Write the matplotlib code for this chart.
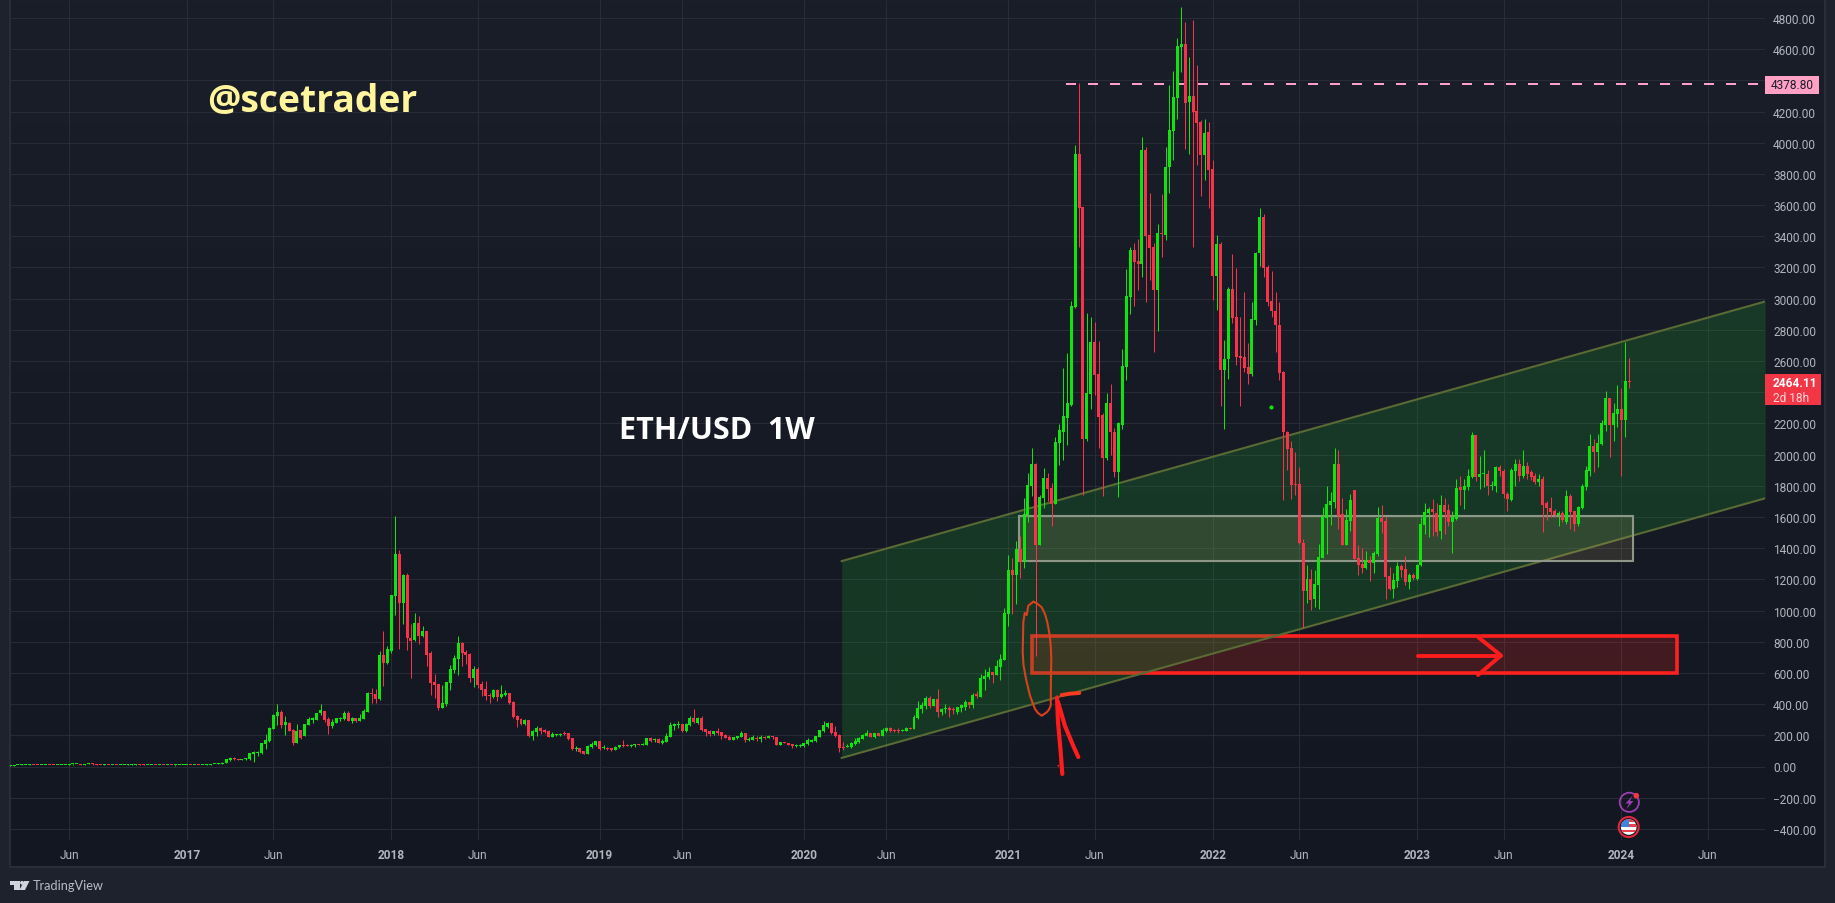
import numpy as np
import matplotlib
matplotlib.use("Agg")
import matplotlib.pyplot as plt
from matplotlib.patches import Rectangle, Circle, Polygon

plt.rcParams['font.family'] = ['Roboto', 'DejaVu Sans']

# (open, high, low, close) per week, by calendar year
ohlc_2016 = [(6,7,5,6),(6,8,6,7),(7,11,7,10),(10,13,10,11),(11,12,10,11),(11,13,10,12),(12,12,9,10),(10,10,7,8),(8,9,7,8),
 (8,9,7,9),(9,10,7,8),(8,8,7,7),(7,9,7,8),(8,11,8,10),(10,12,10,11),(11,14,11,13),(13,15,12,13),(13,15,13,14),(14,15,11,12),
 (12,16,12,15),(15,21,15,18),(18,21,12,14),(14,15,10,12),(12,12,10,11),(11,15,10,12),(12,12,10,10),(10,12,10,11),(11,12,10,10),(10,12,10,11),
 (11,12,10,11),(11,13,11,12),(12,14,12,12),(12,15,12,13),(13,13,11,12),(12,13,11,11),(11,12,11,11),(11,12,10,11),(11,11,10,10),(10,11,9,10),
 (10,10,9,9),(9,10,8,9),(9,9,7,8),(8,8,6,8),(8,9,7,8),(8,9,7,8)]
ohlc_2017 = [(8,9,7,8),(10,11,8,9),(10,11,9,11),(11,12,10,10),(10,12,10,11),(11,13,11,12),(12,14,11,13),(14,19,13,18),(18,20,16,19),
 (18,27,17,25),(21,50,20,46),(40,60,38,55),(52,58,44,46),(46,50,41,42),(42,50,40,48),(46,52,44,48),(46,86,44,84),(78,99,30,90),
 (87,97,70,88),(84,150,82,148),(142,211,110,173),(165,252,160,249),(243,335,240,331),(325,401,268,352),(350,363,249,268),(268,325,205,287),
 (279,287,228,230),(236,240,135,148),(148,274,148,230),(231,236,179,184),(197,271,195,271),(267,320,265,303),(299,316,278,308),(299,346,297,346),
 (340,400,329,361),(355,358,286,297),(303,320,207,261),(259,303,250,284),(280,312,278,310),(303,316,293,310),(303,355,295,342),(342,355,290,293),
 (293,316,280,310),(310,312,286,293),(293,335,291,310),(306,368,304,355),(350,475,348,470),(470,502,406,466),(464,496,406,432),(432,739,425,714),
 (714,868,515,662),(662,773,655,752)]
ohlc_2018 = [(739,1100,725,1098),(1092,1604,970,1361),(1361,1387,755,1047),(1047,1233,915,1227),(1227,1240,744,823),(823,914,565,803),
 (810,985,805,919),(919,963,786,835),(835,900,830,868),(868,872,642,714),(727,739,457,534),(541,590,440,521),(528,532,363,374),(374,521,372,406),
 (400,545,389,541),(534,650,490,624),(618,712,600,694),(688,838,586,791),(791,796,645,727),(733,744,655,714),(720,727,545,566),(566,645,510,624),
 (624,636,505,521),(528,551,451,489),(496,549,425,451),(457,474,406,453),(444,500,440,489),(489,495,420,444),(444,525,442,464),(457,489,449,470),
 (470,472,400,406),(412,418,310,316),(322,330,254,297),(303,310,263,271),(271,303,268,297),(297,299,186,194),(194,231,171,226),(220,258,197,246),
 (246,252,207,226),(233,240,218,220),(226,231,186,188),(188,224,186,207),(200,209,198,207),(203,218,196,211),(214,226,205,207),(214,216,171,175),
 (182,184,105,111),(111,130,100,120),(118,120,85,90),(98,100,78,79),(79,137,78,130),(122,160,118,143),(137,164,130,162)]
ohlc_2019 = [(162,164,108,111),(117,135,115,124),(120,122,108,113),(118,120,102,109),(105,130,104,128),(122,137,118,135),(137,167,128,130),
 (139,143,130,132),(130,145,124,139),(137,147,128,143),(143,145,137,139),(139,150,137,143),(137,184,135,182),(182,190,160,162),(169,184,154,175),
 (175,180,148,150),(150,175,146,162),(156,213,154,194),(188,284,186,265),(258,278,235,271),(265,291,246,271),(271,273,224,226),(226,278,224,271),
 (265,325,258,310),(310,370,278,284),(282,320,273,310),(310,323,230,233),(239,241,194,220),(226,233,194,207),(207,228,205,226),(226,244,205,213),
 (220,222,175,194),(201,207,180,182),(188,199,167,169),(169,190,167,188),(182,196,177,194),(188,226,186,213),(213,215,158,169),(169,186,165,177),
 (169,199,167,188),(182,194,162,175),(175,201,158,188),(186,194,178,182),(182,199,180,194),(192,194,175,186),(188,190,135,137),(137,160,135,156),
 (156,158,148,150),(150,152,135,137),(143,145,120,130),(130,145,124,139),(132,143,128,141)]
ohlc_2020 = [(130,152,128,150),(143,180,141,169),(160,177,154,173),(162,196,160,194),(188,235,186,233),(226,290,224,265),(252,288,245,278),
 (278,280,211,213),(220,258,192,194),(201,207,94,118),(128,154,105,120),(127,145,124,133),(124,155,120,150),(143,180,141,163),(154,190,152,182),
 (176,206,174,201),(197,231,195,214),(214,216,186,188),(186,216,184,214),(214,216,195,197),(195,250,193,233),(225,255,222,244),(244,253,223,229),
 (235,240,222,227),(236,250,218,229),(227,238,225,234),(227,252,225,247),(248,253,240,242),(240,330,238,318),(311,420,305,375),(369,415,345,395),
 (388,450,370,440),(440,450,378,388),(388,435,385,433),(433,498,318,350),(350,375,330,369),(369,400,345,378),(375,385,318,360),(369,380,337,360),
 (350,384,335,382),(375,400,350,395),(382,424,360,414),(414,416,375,395),(395,470,378,459),(462,482,440,455),(446,590,444,568),(562,625,490,581),
 (575,640,560,607),(607,609,535,588),(588,680,586,645),(639,720,555,690),(684,1015,680,986)]
ohlc_2021 = [(978,1357,900,1261),(1261,1340,980,1229),(1229,1445,1045,1396),(1396,1480,1212,1313),(1313,1720,1275,1621),(1615,1880,1570,1807),
 (1800,2045,1735,1942),(1942,1945,707,1422),(1422,1740,1420,1730),(1724,1915,1660,1853),(1853,1880,1700,1782),(1788,1815,1540,1685),(1685,2110,1683,2083),
 (2077,2195,1935,2155),(2148,2553,1965,2250),(2238,2650,2060,2328),(2321,2985,2310,2955),(2946,3987,2940,3929),(3929,4386,3330,3581),(3588,3590,1740,2097),
 (2097,2910,2090,2392),(2386,2885,2290,2720),(2720,2853,2380,2508),(2514,2730,2040,2244),(2251,2265,1735,1981),(1981,2395,1965,2328),(2328,2455,2000,2142),
 (2148,2170,1855,1891),(1891,2210,1730,2200),(2193,2680,2165,2566),(2560,3190,2480,3015),(3008,3330,2900,3311),(3311,3355,2950,3234),(3240,3380,3055,3221),
 (3221,4040,3140,3955),(3955,3975,2980,3401),(3408,3680,3120,3324),(3330,3355,2660,3054),(3054,3480,2793,3420),(3420,3670,3270,3414),(3407,3975,3375,3845),
 (3845,4373,3678,4083),(4077,4461,3890,4295),(4289,4670,4154,4623),(4617,4868,4456,4630),(4630,4775,3960,4257),(4263,4550,3925,4302),(4302,4785,3330,4199),
 (4205,4500,3860,4128),(4135,4145,3660,3922),(3922,4155,3760,4064),(4070,4130,3580,3826)]
ohlc_2022 = [(3832,3890,2990,3144),(3144,3410,2930,3350),(3350,3362,2309,2540),(2540,2733,2167,2611),(2611,3075,2482,3060),(3060,3285,2842,2874),
 (2881,3195,2575,2624),(2630,2880,2310,2617),(2624,3045,2530,2553),(2560,2715,2450,2514),(2514,2980,2505,2868),(2862,3298,2830,3296),(3290,3580,3210,3523),
 (3523,3545,3140,3195),(3202,3215,2950,2976),(2983,3180,2880,2918),(2918,3040,2660,2829),(2829,2977,2480,2521),(2527,2535,1710,2142),(2148,2150,1900,2039),
 (2045,2086,1715,1807),(1814,2018,1743,1807),(1814,1923,1425,1435),(1435,1460,887,1126),(1126,1290,1050,1203),(1203,1265,1005,1068),(1075,1260,1025,1171),
 (1165,1430,1010,1345),(1338,1665,1336,1601),(1595,1800,1360,1685),(1679,1760,1550,1705),(1698,2040,1660,1942),(1942,2030,1525,1608),(1621,1720,1420,1422),
 (1422,1650,1420,1583),(1577,1750,1510,1711),(1770,1775,1330,1332),(1338,1420,1225,1293),(1300,1400,1240,1274),(1274,1385,1265,1325),(1325,1350,1190,1306),
 (1306,1380,1240,1370),(1364,1665,1350,1595),(1595,1680,1500,1570),(1576,1600,1075,1216),(1223,1280,1130,1139),(1139,1240,1080,1197),(1190,1310,1150,1287),
 (1287,1300,1215,1262),(1268,1350,1165,1184),(1184,1240,1140,1225),(1225,1240,1195,1208)]
ohlc_2023 = [(1200,1300,1198,1295),(1290,1600,1288,1557),(1550,1690,1490,1630),(1625,1665,1470,1650),(1650,1715,1480,1630),(1628,1690,1480,1505),
 (1510,1740,1460,1680),(1680,1720,1490,1635),(1642,1685,1540,1565),(1565,1640,1370,1600),(1590,1845,1580,1785),(1790,1860,1680,1775),(1775,1845,1650,1800),
 (1795,1905,1770,1865),(1858,2145,1850,2128),(2128,2128,1830,1858),(1858,1990,1780,1878),(1875,2030,1790,1880),(1878,1900,1740,1800),(1800,1830,1775,1807),
 (1800,1930,1760,1918),(1918,1935,1860,1893),(1893,1905,1720,1745),(1750,1760,1640,1715),(1710,1915,1700,1900),(1895,1975,1800,1940),(1940,1970,1830,1865),
 (1865,2030,1850,1930),(1930,1950,1845,1878),(1888,1900,1840,1855),(1860,1885,1810,1822),(1822,1875,1800,1842),(1842,1860,1505,1680),(1688,1700,1580,1655),
 (1660,1730,1600,1630),(1637,1650,1600,1610),(1610,1640,1540,1625),(1625,1640,1570,1578),(1570,1775,1555,1735),(1735,1745,1520,1630),(1637,1640,1510,1555),
 (1555,1670,1545,1665),(1660,1810,1650,1800),(1795,1925,1770,1900),(1893,2135,1860,2053),(2053,2100,1890,2015),(2015,2135,1920,2072),(2065,2220,2060,2200),
 (2193,2405,2150,2360),(2360,2365,1985,2193),(2193,2330,2085,2270),(2263,2445,2175,2290)]
ohlc_2024 = [(2290,2430,1860,2220),(2225,2720,2110,2475),(2475,2620,2425,2464)]

price_ticks = [-400,-200,0,200,400,600,800,1000,1200,1400,1600,1800,2000,2200,2400,2600,2800,3000,3200,3400,3600,3800,4000,4200,4400,4600,4800]
covered_price_ticks = [2400, 4400]  # hidden behind the value labels in the reference
time_tick_weeks = [15,45,67,97,119,150,171,202,223,254,276,306,328,358,380,410,432]
time_tick_labels = ['Jun','2017','Jun','2018','Jun','2019','Jun','2020','Jun','2021','Jun','2022','Jun','2023','Jun','2024','Jun']

channel_weeks = [211.6, 446.6]
channel_upper = [1317, 2982]
channel_lower = [55, 1720]
zone_grey_weeks, zone_grey_prices = [256.6, 413.0], [1317, 1608]
zone_red_weeks, zone_red_prices = [260.0, 424.1], [600, 839]
resistance_week_start, resistance_price = 268.7, 4378.8
stray_dot_week, stray_dot_price = 320.8, 2306

GREEN, RED = '#0de50d', '#f7334a'
W, H = 1835, 904

ohlc = np.array(ohlc_2016 + ohlc_2017 + ohlc_2018 + ohlc_2019 + ohlc_2020 + ohlc_2021 + ohlc_2022 + ohlc_2023 + ohlc_2024, dtype=float)
op, hi, lo, cl = ohlc.T
weeks = np.arange(len(ohlc))
colors = [GREEN if c >= o else RED for o, c in zip(op, cl)]

fig = plt.figure(figsize=(W/100, H/100), dpi=100, facecolor='#1e222d')

# pane background with its faint vertical gradient
bg = fig.add_axes([10/W, (H-868)/H, (1825-10)/W, 868/H], zorder=0)
top, bot = np.array([26, 30, 41]), np.array([19, 23, 33])
grad = np.linspace(0, 1, 256)[:, None, None] * (bot-top)[None, None, :] + top
bg.imshow(grad.astype(np.uint8), aspect='auto', extent=[0, 1, 0, 1])
bg.set_xticks([]); bg.set_yticks([])
for s in bg.spines.values():
    s.set_color('#2a2e39'); s.set_linewidth(1.4)

# main price/time axes
X0, X1, Y0, Y1 = 10, 1765, 841, 0
PX_WEEK, PX_PRICE = 3.93, 0.15594
ax = fig.add_axes([X0/W, (H-Y0)/H, (X1-X0)/W, (Y0-Y1)/H], zorder=5)
ax.patch.set_alpha(0)
ax.set_xlim((X0-10.1)/PX_WEEK, (X1-10.1)/PX_WEEK)
ax.set_ylim((767.5-Y0)/PX_PRICE, (767.5-Y1)/PX_PRICE)
for s in ax.spines.values():
    s.set_visible(False)
ax.yaxis.tick_right()
ax.set_yticks(price_ticks)
ax.set_yticklabels(['' if p in covered_price_ticks else f'{p:.2f}'.replace('-', '\u2212') for p in price_ticks])
ax.set_xticks(time_tick_weeks)
ax.set_xticklabels(time_tick_labels)
ax.tick_params(axis='both', length=0, labelsize=8.6, labelcolor='#b2b5be')
ax.tick_params(axis='y', pad=5.8)
ax.tick_params(axis='x', pad=5.6)
for lab in ax.get_xticklabels():
    if lab.get_text() != 'Jun':
        lab.set_fontweight('bold')
ax.grid(True, color='#2a2e39', lw=0.72, alpha=0.9)
ax.set_axisbelow(True)

# red support zone sits under the channel fill
ax.add_patch(Rectangle((zone_red_weeks[0], zone_red_prices[0]), zone_red_weeks[1]-zone_red_weeks[0], zone_red_prices[1]-zone_red_prices[0],
                       facecolor='#ff2a20', alpha=0.2, lw=0, zorder=1))
ax.add_patch(Rectangle((zone_red_weeks[0], zone_red_prices[0]), zone_red_weeks[1]-zone_red_weeks[0], zone_red_prices[1]-zone_red_prices[0],
                       fill=False, edgecolor='#ff2020', lw=2.6, zorder=1.1, joinstyle='miter'))
ax.fill_between(channel_weeks, channel_lower, channel_upper, color='#1e9a2d', alpha=0.24, lw=0, zorder=2)
ax.plot(channel_weeks, channel_upper, color='#5a6a35', lw=1.5, zorder=2.1)
ax.plot(channel_weeks, channel_lower, color='#5a6a35', lw=1.5, zorder=2.1)
ax.add_patch(Rectangle((zone_grey_weeks[0], zone_grey_prices[0]), zone_grey_weeks[1]-zone_grey_weeks[0], zone_grey_prices[1]-zone_grey_prices[0],
                       facecolor='#c8b070', alpha=0.15, lw=0, zorder=2.2))
ax.add_patch(Rectangle((zone_grey_weeks[0], zone_grey_prices[0]), zone_grey_weeks[1]-zone_grey_weeks[0], zone_grey_prices[1]-zone_grey_prices[0],
                       fill=False, edgecolor='#8d9788', lw=1.5, zorder=2.3))
ax.plot([resistance_week_start, 446.6], [resistance_price]*2, color='#ff9ec6', lw=1.44, linestyle=(0, (5, 6)), zorder=2.5)

wicks = ax.vlines(weeks, lo, hi, colors=colors, lw=0.72, zorder=3)
wicks.set_snap(True)
# bodies are at least about one pixel tall, as the charting tool draws them
body = np.maximum(np.abs(cl-op), 6.5)
ax.bar(weeks, body, bottom=np.minimum(op, cl), width=0.76, color=colors, linewidth=0, antialiased=False, zorder=4)
ax.scatter([stray_dot_week], [stray_dot_price], s=9, color=GREEN, lw=0, zorder=4)

# pixel overlay for freehand drawings, labels and branding
ov = fig.add_axes([0, 0, 1, 1], zorder=10)
ov.set_xlim(0, W); ov.set_ylim(H, 0); ov.axis('off'); ov.patch.set_alpha(0)

def stroke(xs, ys, color='#ff1c1c', lw=2.8):
    ov.plot(xs, ys, color=color, lw=lw, solid_capstyle='round', solid_joinstyle='round')

ell_x = [1033.3,1037,1041.7,1045,1047.3,1049.5,1050.7,1051.3,1051,1050.7,1049,1046.7,1041.7,1038,1035,1030,1026,1023.5,1022.7,1023.3,1024.7,1026.7,1028.3,1033.3]
ell_y = [602.7,604.5,608.3,615,623.3,635,646.7,660,673.3,706.7,710.5,713.3,716.7,714,710,696.7,680,666,653.3,623.3,614,616,606.7,602.7]
stroke(ell_x, ell_y, color='#d9401e', lw=1.5)
stroke([1418, 1501], [656.5, 656.5])
stroke([1478, 1501, 1478], [638, 656.5, 676])
stroke([1062.3, 1060.7, 1058, 1057], [775, 753, 723, 698.5], lw=3.0)
stroke([1058, 1065, 1073.3, 1078.3], [703, 727, 747, 758], lw=3.0)
stroke([1061.7, 1070, 1079.3], [696, 694.7, 694], lw=2.8, color='#f53b20')
ov.add_patch(Circle((1058.3, 766.7), 0.9, color='#ff2020', lw=0))

# right-axis value labels
ov.add_patch(Rectangle((1765, 76.5), 54, 18, facecolor='#ffa0c4', lw=0))
ov.text(1792, 85.7, '4378.80', color='#1a1d27', fontsize=8.6, ha='center', va='center')
ov.add_patch(Rectangle((1765, 375.3), 55.7, 30.7, facecolor='#f23645', lw=0))
ov.text(1773, 383.4, '2464.11', color='white', fontsize=8.6, ha='left', va='center', fontweight='bold')
ov.text(1773, 398.4, '2d 18h', color='#ffd6da', fontsize=8.6, ha='left', va='center')

# titles on the chart
ov.text(207.5, 102.5, '@scetrader', color='#fff59d', fontsize=26.8, fontweight='bold', family=['Open Sans', 'DejaVu Sans'], ha='left', va='center')
ov.text(619, 431, 'ETH/USD  1W', color='white', fontsize=22, fontweight='bold', family=['Open Sans', 'DejaVu Sans'], ha='left', va='center')

# event icons
ov.add_patch(Circle((1629.3, 803.3), 9.6, fill=False, edgecolor='#9c3db4', lw=1.3))
ov.add_patch(Polygon([(1632.5,796.8),(1625.5,804.5),(1629,804.5),(1626.5,810),(1633.5,802),(1630,802)], facecolor='#9c3db4', lw=0))
ov.add_patch(Circle((1636.3, 796.7), 2.8, facecolor='#f23645', lw=0))
ring = Circle((1628.7, 828), 10, fill=False, edgecolor='#e0283c', lw=1.5)
ov.add_patch(ring)
disc = Circle((1628.7, 828), 7.8, transform=ov.transData)
ov.add_patch(Circle((1628.7, 828), 7.8, facecolor='white', lw=0))
for y0, h_, c_ in [(820, 2.6, '#e8414f'), (825.4, 2.6, '#e8414f'), (830.8, 2.6, '#e8414f'), (820, 7.5, None)]:
    if c_:
        r = Rectangle((1620, y0), 18, h_, facecolor=c_, lw=0)
    else:
        r = Rectangle((1620, y0), 9, h_, facecolor='#3d86e0', lw=0)
    ov.add_patch(r); r.set_clip_path(disc)

# footer branding
ov.add_patch(Polygon([(10,882),(20,882),(20,891),(14,891),(14,886),(10,886)], facecolor='#d1d4dc', lw=0))
ov.add_patch(Circle((22.0, 883.8), 1.9, facecolor='#d1d4dc', lw=0))
ov.add_patch(Polygon([(24,882),(29.5,882),(25,891),(19.5,891)], facecolor='#d1d4dc', lw=0))
ov.text(33, 886.5, 'TradingView', color='#b8bcc6', fontsize=9.2, family=['Lato', 'DejaVu Sans'], ha='left', va='center')

fig.savefig('out.png', dpi=100, facecolor=fig.get_facecolor())
